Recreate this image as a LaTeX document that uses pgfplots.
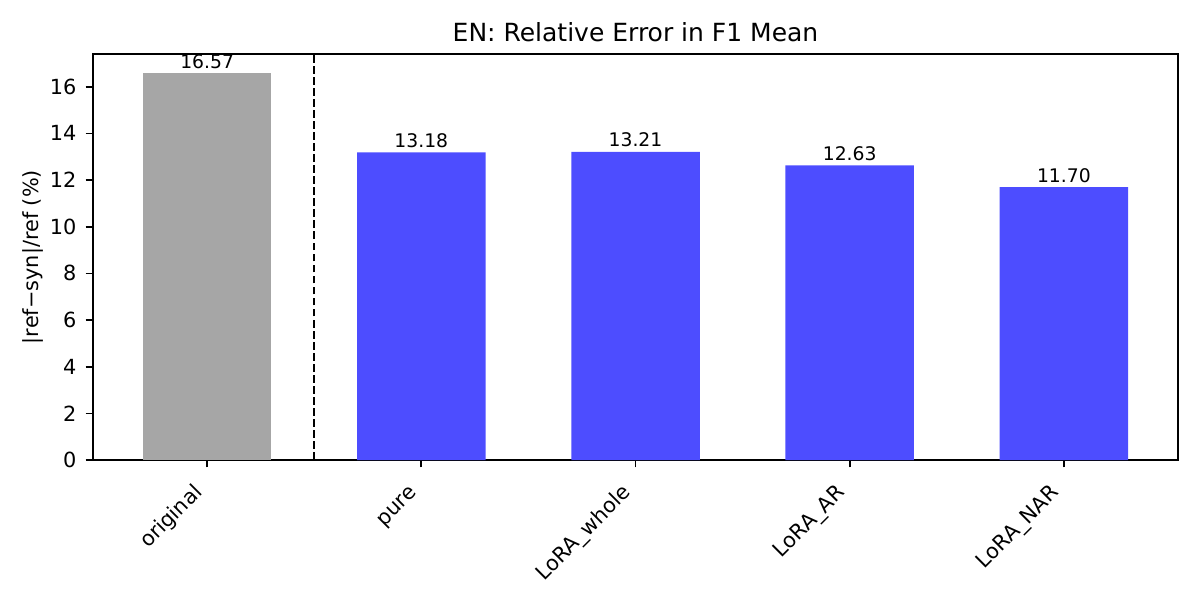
\documentclass[border=0pt]{standalone}
\usepackage{pgfplots}
\pgfplotsset{compat=1.18}
\usepackage{fontspec}
\setmainfont{DejaVu Sans}
\definecolor{bargray}{RGB}{166,166,166}
\definecolor{barblue}{RGB}{77,77,255}
\begin{document}
\begin{tikzpicture}
\path[use as bounding box] (-66.96pt,-100.8pt) rectangle (797.04pt,331.2pt);
\begin{axis}[
  at={(0,0)}, anchor=south west,
  scale only axis, width=781.2pt, height=292.32pt,
  xmin=-0.533, xmax=4.533, ymin=0, ymax=17.4,
  xtick={0,1,2,3,4},
  xticklabels={original,pure,LoRA\_whole,LoRA\_AR,LoRA\_NAR},
  x tick label style={rotate=45, anchor=base east, inner sep=0pt, font=\fontsize{15}{18}\selectfont, xshift=-15.2pt, yshift=-11.5pt},
  ytick={0,2,4,6,8,10,12,14,16},
  y tick label style={anchor=east, inner sep=0pt, xshift=-6.5pt, font=\fontsize{15}{18}\selectfont},
  /pgf/number format/assume math mode=true,
  tick align=outside, tick pos=left, major tick length=5.25pt,
  axis line style={line width=1.2pt}, every tick/.style={line width=1.2pt, black},
  title={EN: Relative Error in F1 Mean},
  title style={at={(axis description cs:0.5,1)}, anchor=base, yshift=3pt, inner sep=0pt, font=\fontsize{18}{21}\selectfont},
  ylabel={|ref−syn|/ref (\%)},
  every axis y label/.style={at={(axis description cs:0,0.5)}, rotate=90, anchor=center, yshift=43.2pt, font=\fontsize{15}{18}\selectfont},
  nodes near coords={\pgfmathprintnumber[fixed,fixed zerofill,precision=2]{\pgfplotspointmeta}},
  every node near coord/.append style={font=\fontsize{13.5}{16}\selectfont, inner sep=0pt, anchor=base, yshift=3.6pt, black},
]
\addplot[ybar, bar shift=0pt, bar width=0.6, fill=bargray, draw=none] coordinates {(0,16.57)};
\addplot[ybar, bar shift=0pt, bar width=0.6, fill=barblue, draw=none] coordinates {(1,13.18) (2,13.21) (3,12.63) (4,11.70)};
\addplot[black, line width=1.5pt, nodes near coords={}, dash pattern=on 5.55pt off 2.4pt] coordinates {(0.5,0) (0.5,17.4)};
\end{axis}
\end{tikzpicture}
\end{document}
